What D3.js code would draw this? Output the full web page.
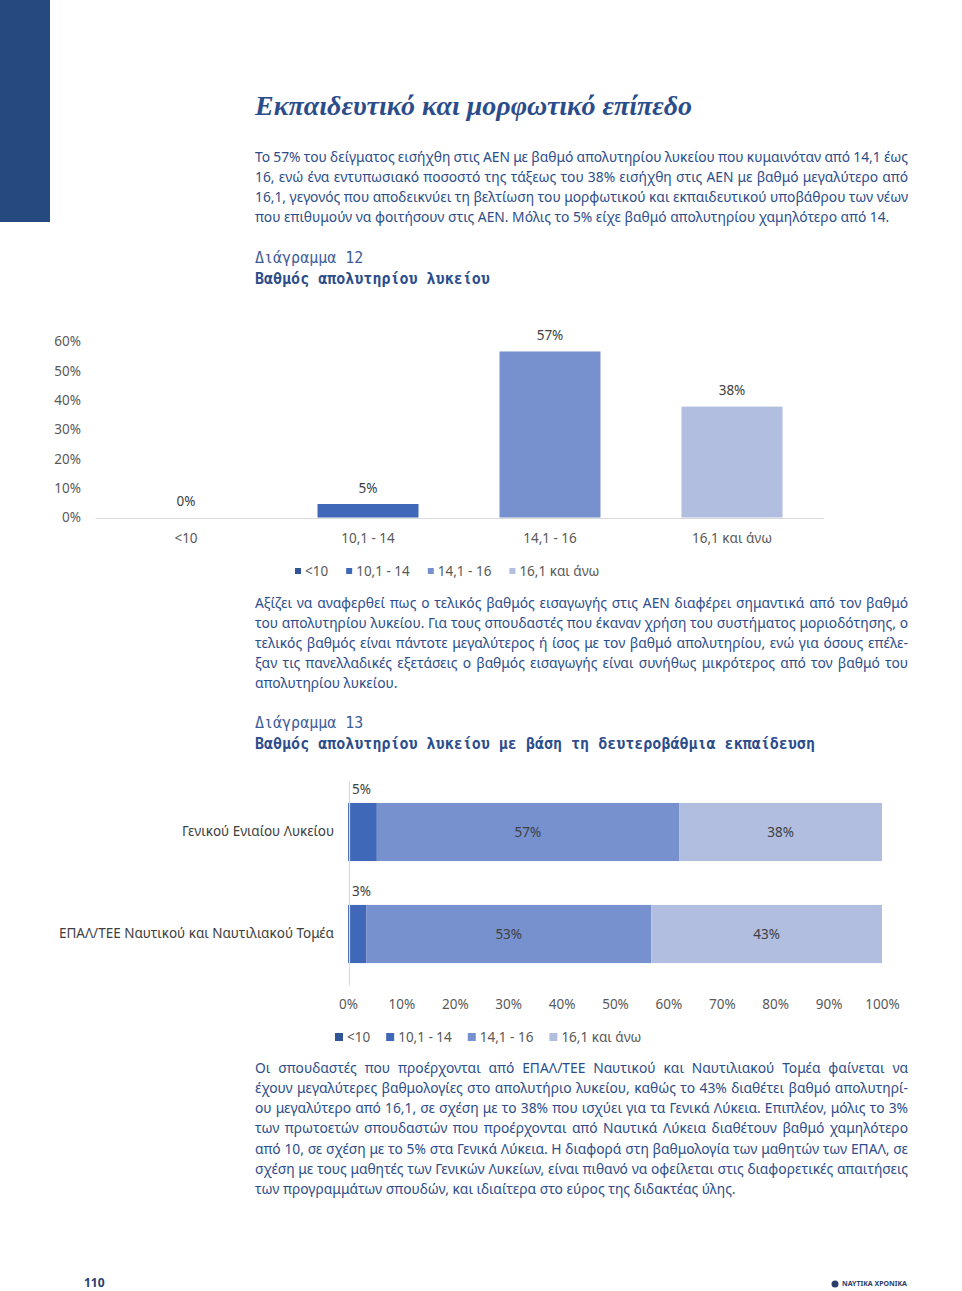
<!DOCTYPE html>
<html>
<head>
<meta charset="utf-8">
<script src="https://cdn.jsdelivr.net/npm/d3@7"></script>
<style>
  html, body { margin: 0; padding: 0; background: #fff; }
  svg { display: block; }
</style>
</head>
<body>
<script>
// ---------------- DATA ----------------
const categories = ["<10", "10,1 - 14", "14,1 - 16", "16,1 και άνω"];
const overallShares = [0, 0.046, 0.566, 0.378];
const yTickValues1 = [0, 0.1, 0.2, 0.3, 0.4, 0.5, 0.6];

const schoolTypes = ["Γενικού Ενιαίου Λυκείου", "ΕΠΑΛ/ΤΕΕ Ναυτικού και Ναυτιλιακού Τομέα"];
const shareBelow10 = [0, 0];
const share10to14 = [0.054, 0.034];
const share14to16 = [0.566, 0.534];
const share16plus = [0.38, 0.432];
const xTickValues2 = [0, 0.1, 0.2, 0.3, 0.4, 0.5, 0.6, 0.7, 0.8, 0.9, 1];

const pageTitle = "Εκπαιδευτικό και μορφωτικό επίπεδο";
const chart12Label = "Διάγραμμα 12";
const chart12Title = "Βαθμός απολυτηρίου λυκείου";
const chart13Label = "Διάγραμμα 13";
const chart13Title = "Βαθμός απολυτηρίου λυκείου με βάση τη δευτεροβάθμια εκπαίδευση";

const para1 = [
  "Το 57% του δείγματος εισήχθη στις ΑΕΝ με βαθμό απολυτηρίου λυκείου που κυμαινόταν από 14,1 έως",
  "16, ενώ ένα εντυπωσιακό ποσοστό της τάξεως του 38% εισήχθη στις ΑΕΝ με βαθμό μεγαλύτερο από",
  "16,1, γεγονός που αποδεικνύει τη βελτίωση του μορφωτικού και εκπαιδευτικού υποβάθρου των νέων",
  "που επιθυμούν να φοιτήσουν στις ΑΕΝ. Μόλις το 5% είχε βαθμό απολυτηρίου χαμηλότερο από 14."
];
const para2 = [
  "Αξίζει να αναφερθεί πως ο τελικός βαθμός εισαγωγής στις ΑΕΝ διαφέρει σημαντικά από τον βαθμό",
  "του απολυτηρίου λυκείου. Για τους σπουδαστές που έκαναν χρήση του συστήματος μοριοδότησης, ο",
  "τελικός βαθμός είναι πάντοτε μεγαλύτερος ή ίσος με τον βαθμό απολυτηρίου, ενώ για όσους επέλε-",
  "ξαν τις πανελλαδικές εξετάσεις ο βαθμός εισαγωγής είναι συνήθως μικρότερος από τον βαθμό του",
  "απολυτηρίου λυκείου."
];
const para3 = [
  "Οι σπουδαστές που προέρχονται από ΕΠΑΛ/ΤΕΕ Ναυτικού και Ναυτιλιακού Τομέα φαίνεται να",
  "έχουν μεγαλύτερες βαθμολογίες στο απολυτήριο λυκείου, καθώς το 43% διαθέτει βαθμό απολυτηρί-",
  "ου μεγαλύτερο από 16,1, σε σχέση με το 38% που ισχύει για τα Γενικά Λύκεια. Επιπλέον, μόλις το 3%",
  "των πρωτοετών σπουδαστών που προέρχονται από Ναυτικά Λύκεια διαθέτουν βαθμό χαμηλότερο",
  "από 10, σε σχέση με το 5% στα Γενικά Λύκεια. Η διαφορά στη βαθμολογία των μαθητών των ΕΠΑΛ, σε",
  "σχέση με τους μαθητές των Γενικών Λυκείων, είναι πιθανό να οφείλεται στις διαφορετικές απαιτήσεις",
  "των προγραμμάτων σπουδών, και ιδιαίτερα στο εύρος της διδακτέας ύλης."
];
const pageNumber = "110";
const brandName = "ΝΑΥΤΙΚΑ ΧΡΟΝΙΚΑ";

// ---------------- STYLE ----------------
const W = 962, H = 1291;
const navy = "#244a7f";
const textBlue = "#2c4d8b";
const chartGray = "#595959";
const axisGray = "#d9d9d9";
const seriesColors = ["#2f5597", "#4068b8", "#7791ce", "#b1bee0"];
const chartFont = "'Noto Sans', 'Open Sans', sans-serif";
const monoFont = "'DejaVu Sans Mono', 'Liberation Mono', monospace";
const pct = d3.format(".0%");

const svg = d3.select("body").append("svg").attr("width", W).attr("height", H);

// sidebar block
svg.append("rect").attr("x", 0).attr("y", 0).attr("width", 50).attr("height", 222).attr("fill", navy);

// title
svg.append("text").attr("x", 255).attr("y", 115)
  .attr("font-family", "'Liberation Serif', 'DejaVu Serif', serif")
  .attr("font-style", "italic").attr("font-weight", "bold")
  .attr("font-size", 28).attr("fill", textBlue).text(pageTitle);

// paragraphs, justified
function paragraph(lines, x, yCenter, lh, width) {
  const g = svg.append("g")
    .attr("font-family", "'Noto Sans', 'Open Sans', sans-serif")
    .attr("font-size", 13.8).attr("fill", textBlue);
  lines.forEach((t, i) => {
    const el = g.append("text").attr("x", x).attr("y", yCenter + i * lh).attr("dy", "0.35em").text(t);
    if (i < lines.length - 1) {
      const w = el.node().getComputedTextLength();
      const s = (t.match(/ /g) || []).length;
      if (s) el.style("word-spacing", ((width - w) / s) + "px");
    }
  });
}
paragraph(para1, 255, 157, 20.2, 653);
paragraph(para2, 255, 603, 20.1, 653);
paragraph(para3, 255, 1068, 20.2, 653);

// chart captions
function caption(label, title, y) {
  svg.append("text").attr("x", 255).attr("y", y).attr("dy", "0.35em")
    .attr("font-family", monoFont).attr("font-size", 15).attr("fill", "#3d5d98").text(label);
  svg.append("text").attr("x", 255).attr("y", y + 20.5).attr("dy", "0.35em")
    .attr("font-family", monoFont).attr("font-size", 15).attr("font-weight", "bold")
    .attr("fill", textBlue).text(title);
}
caption(chart12Label, chart12Title, 258);
caption(chart13Label, chart13Title, 723);

// ---------------- CHART 12 ----------------
const c1 = svg.append("g").attr("font-family", chartFont);
const x1 = d3.scaleBand().domain(categories).range([95, 823]).paddingInner(0.445).paddingOuter(0.2225);
const y1 = d3.scaleLinear().domain([0, 0.6]).range([517.5, 341.5]);

const yAxis1 = c1.append("g").attr("transform", "translate(81,0)")
  .call(d3.axisLeft(y1).tickValues(yTickValues1).tickFormat(pct).tickSize(0).tickPadding(0));
yAxis1.select(".domain").remove();
yAxis1.selectAll("text").attr("fill", chartGray).attr("font-size", 13.5).attr("font-family", chartFont);

c1.selectAll("rect.bar").data(categories).join("rect").attr("class", "bar")
  .attr("x", d => x1(d)).attr("width", x1.bandwidth())
  .attr("y", (d, i) => y1(overallShares[i]))
  .attr("height", (d, i) => y1(0) - y1(overallShares[i]))
  .attr("fill", (d, i) => seriesColors[i]);

const xAxis1 = c1.append("g").attr("transform", "translate(0,518)")
  .call(d3.axisBottom(x1).tickSize(0).tickPadding(15));
xAxis1.select(".domain").attr("stroke", axisGray).attr("stroke-width", 1.2);
xAxis1.selectAll("text").attr("fill", chartGray).attr("font-size", 13.5).attr("font-family", chartFont);

c1.selectAll("text.lbl").data(categories).join("text").attr("class", "lbl")
  .attr("x", d => x1(d) + x1.bandwidth() / 2)
  .attr("y", (d, i) => y1(overallShares[i]) - 16).attr("dy", "0.35em")
  .attr("text-anchor", "middle").attr("font-size", 13.5).attr("fill", "#404040")
  .text((d, i) => pct(overallShares[i]));

function legend(g, x0, yc, sq, sqGap, itemGap, fs) {
  let x = x0;
  categories.forEach((c, i) => {
    g.append("rect").attr("x", x).attr("y", yc - sq / 2).attr("width", sq).attr("height", sq).attr("fill", seriesColors[i]);
    const t = g.append("text").attr("x", x + sq + sqGap).attr("y", yc).attr("dy", "0.35em")
      .attr("font-size", fs).attr("fill", chartGray).text(c);
    x += sq + sqGap + t.node().getComputedTextLength() + itemGap;
  });
}
legend(c1, 295, 571, 6, 4, 18, 13.5);

// ---------------- CHART 13 ----------------
const c2 = svg.append("g").attr("font-family", chartFont);
const x2 = d3.scaleLinear().domain([0, 1]).range([348, 882]);
const y2 = d3.scaleBand().domain(schoolTypes).range([781, 985]).paddingInner(0.43).paddingOuter(0.215);

const rows = schoolTypes.map((s, i) => ({
  school: s,
  [categories[0]]: shareBelow10[i],
  [categories[1]]: share10to14[i],
  [categories[2]]: share14to16[i],
  [categories[3]]: share16plus[i]
}));
const stacked = d3.stack().keys(categories)(rows);

stacked.forEach((series, si) => {
  c2.append("g").selectAll("rect").data(series).join("rect")
    .attr("x", d => x2(d[0])).attr("width", d => x2(d[1]) - x2(d[0]))
    .attr("y", d => y2(d.data.school)).attr("height", y2.bandwidth())
    .attr("fill", seriesColors[si]);
  c2.append("g").selectAll("text").data(series.filter(d => d[1] - d[0] > 0)).join("text")
    .each(function (d) {
      const v = d[1] - d[0];
      const el = d3.select(this).attr("font-size", 13.5).attr("fill", "#404040").attr("dy", "0.35em").text(pct(v));
      if (v < 0.1) {
        el.attr("x", x2(d[0]) + 4).attr("y", y2(d.data.school) - 14).attr("text-anchor", "start");
      } else {
        el.attr("x", x2((d[0] + d[1]) / 2)).attr("y", y2(d.data.school) + y2.bandwidth() / 2).attr("text-anchor", "middle");
      }
    });
});

// vertical category axis line
const yAxis2 = c2.append("g").attr("transform", "translate(349,0)")
  .call(d3.axisLeft(y2).tickSize(0).tickPadding(15));
yAxis2.select(".domain").attr("stroke", axisGray).attr("stroke-width", 1.2);
yAxis2.selectAll("text").attr("fill", "#404040").attr("font-size", 13.5).attr("font-family", chartFont);

const xAxis2 = c2.append("g").attr("transform", "translate(0,999)")
  .call(d3.axisBottom(x2).tickValues(xTickValues2).tickFormat(pct).tickSize(0).tickPadding(0));
xAxis2.select(".domain").remove();
xAxis2.selectAll("text").attr("fill", chartGray).attr("font-size", 13.5).attr("font-family", chartFont);

legend(c2, 335, 1037, 8, 4, 16, 13.5);

// ---------------- FOOTER ----------------
svg.append("text").attr("x", 84).attr("y", 1283).attr("dy", "0.35em")
  .attr("font-family", "'Noto Sans', sans-serif").attr("font-weight", "bold").attr("font-size", 12)
  .attr("fill", "#2a3f6e").text(pageNumber);
svg.append("circle").attr("cx", 835).attr("cy", 1284).attr("r", 3.5).attr("fill", "#2a3f6e");
svg.append("text").attr("x", 842).attr("y", 1284).attr("dy", "0.35em")
  .attr("font-family", "'Noto Sans', sans-serif").attr("font-weight", "bold").attr("font-size", 7)
  .attr("fill", "#2a3f6e").text(brandName);
</script>
</body>
</html>
